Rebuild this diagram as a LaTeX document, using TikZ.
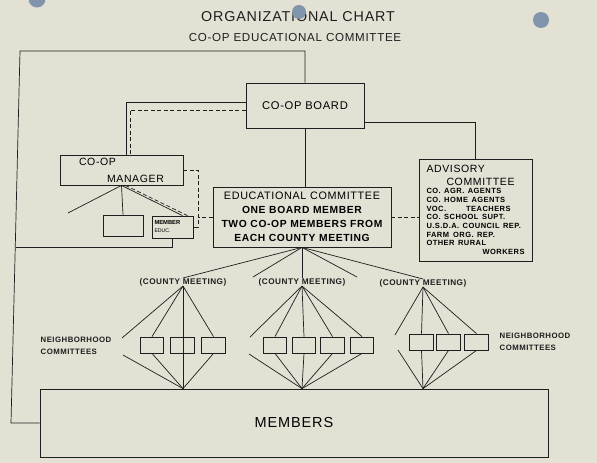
\documentclass[tikz,border=0pt]{standalone}
\usepackage{fontspec}
\setmainfont{Liberation Sans}
\newfontfamily\lettering[LetterSpace=6]{Liberation Sans}
\usetikzlibrary{positioning}

\definecolor{paper}{RGB}{227,224,212}
\definecolor{ink}{RGB}{30,30,30}
\definecolor{hole}{RGB}{128,148,172}

\begin{document}
\begin{tikzpicture}[x=1pt,y=-1pt,
    orgbox/.style={draw=ink,line width=.8pt,inner sep=0pt},
    nbox/.style={orgbox,minimum width=23.5pt,minimum height=16pt},
    link/.style={ink,line width=.7pt},
    dlink/.style={link,dash pattern=on 4pt off 2.5pt},
    meeting/.style={font=\lettering\bfseries\fontsize{8.2}{9}\selectfont,inner sep=0pt,text=ink},
    nbhd/.style={font=\lettering\bfseries\fontsize{7.8}{12.5}\selectfont,align=left,text=ink}]

    % Paper
    \fill[paper] (0,0) rectangle (597,463);
    \useasboundingbox (0,0) rectangle (597,463);

    % Titles
    \node[font=\lettering\fontsize{14.3}{16}\selectfont,text=ink] (title) at (298,17) {ORGANIZATIONAL CHART};
    \node[font=\lettering\fontsize{11.6}{12}\selectfont,text=ink] (subtitle) at (295,38) {CO-OP EDUCATIONAL COMMITTEE};

    % Boxes
    \node[orgbox,minimum width=118pt,minimum height=45pt,font=\lettering\fontsize{11.2}{12}\selectfont] (board) at (305,105.5) {CO-OP BOARD};
    \node[orgbox,minimum width=123pt,minimum height=30pt,text width=85pt,align=left,font=\lettering\fontsize{10.5}{17}\selectfont] (mgr) at (121.5,170) {CO-OP\\\hspace*{28pt}MANAGER};
    \node[orgbox,minimum width=40pt,minimum height=21pt] (blank) at (123,225.5) {};
    \node[orgbox,minimum width=41pt,minimum height=22pt,text width=36pt,align=left,font=\bfseries\fontsize{5.8}{8}\selectfont] (med) at (172.5,227) {MEMBER\\{\mdseries\fontsize{5.2}{8}\selectfont EDUC.}};
    \node[orgbox,minimum width=178pt,minimum height=60pt,text width=175pt,align=center,font=\lettering\fontsize{10.8}{14}\selectfont] (ec) at (302,217)
        {EDUCATIONAL COMMITTEE\\{\bfseries\fontsize{10.3}{14}\selectfont ONE BOARD MEMBER\\TWO CO-OP MEMBERS FROM\\EACH COUNTY MEETING}};
    \node[orgbox,minimum width=113pt,minimum height=102pt,text width=98pt,align=left,font=\lettering\fontsize{10.5}{12.5}\selectfont] (adv) at (475.5,210)
        {ADVISORY\\\hspace*{20pt}COMMITTEE\par
        {\bfseries\fontsize{7.5}{8.7}\selectfont CO. AGR. AGENTS\\CO. HOME AGENTS\\VOC.\hspace{20pt}TEACHERS\\CO. SCHOOL SUPT.\\U.S.D.A. COUNCIL REP.\\FARM\hspace{4pt}ORG. REP.\\OTHER RURAL\\\hspace*{\fill}WORKERS\par}};
    \node[orgbox,minimum width=508pt,minimum height=68pt,font=\lettering\fontsize{14.5}{16}\selectfont] (members) at (294,423) {MEMBERS};

    % County meetings
    \node[meeting] (cm1) at (183,282) {(COUNTY MEETING)};
    \node[meeting] (cm2) at (302,282) {(COUNTY MEETING)};
    \node[meeting] (cm3) at (423,283) {(COUNTY MEETING)};

    % Neighborhood committees
    \foreach \x/\n in {152/n11,182.5/n12,213.5/n13,275/n21,304/n22,332.5/n23,362/n24}
        \node[nbox] (\n) at (\x,345) {};
    \foreach \x/\n in {421.5/n31,448.5/n32,476.5/n33}
        \node[nbox] (\n) at (\x,342) {};
    \node[nbhd] (nbl) at (76,346) {NEIGHBORHOOD\\COMMITTEES};
    \node[nbhd] (nbr) at (535,342) {NEIGHBORHOOD\\COMMITTEES};

    % Holes in the sheet
    \fill[hole] (37,-1) circle (8.5);
    \fill[hole] (299,12) circle (7);
    \fill[hole] (541,20) circle (8);

    % Outer line and board links
    \coordinate (ctl) at (20,51);
    \coordinate (cbl) at (11,423);
    \draw[link] (board.north) |- (ctl) -- (cbl) -- (members.west);
    \draw[link] ([yshift=3.5pt]board.west) -| ([xshift=4.5pt]mgr.north);
    \draw[dlink] ([yshift=-4.5pt]board.west) -| ([xshift=8.5pt]mgr.north);
    \draw[link] ([yshift=6pt]board.south east) -| (adv.north);
    \draw[link] (board.south) -- (board.south |- ec.north);

    % Manager links
    \coordinate (mfree) at (68,213);
    \coordinate (dj) at (198,216);
    \coordinate (lb) at (16,247);
    \draw[link] (mgr.south) -- (mfree);
    \draw[link] (mgr.south) -- (blank.north);
    \draw[link] (mgr.south) -- ([xshift=10pt]med.north);
    \draw[dlink] ([xshift=4pt]mgr.south) -- ([xshift=15pt]med.north);
    \draw[dlink] (mgr.east) -- (mgr.east -| dj) -- (dj |- med.east) -- (med.east);
    \draw[dlink] (ec.west) -- (ec.west -| dj);
    \draw[dlink] (ec.east) -- (ec.east -| adv.west);
    \draw[link] (med.south) |- (lb);

    % Educational committee to county meetings
    \coordinate (ef1) at (253,277);
    \coordinate (ef2) at (357,277);
    \foreach \t in {cm1.north,ef1,cm2.north,ef2,cm3.north}
        \draw[link] (ec.south) -- (\t);

    % Meeting 1
    \coordinate (m1) at (cm1.south |- members.north);
    \coordinate (f1a) at (122,338);
    \coordinate (f1b) at (123,355);
    \foreach \t in {f1a,n11.north,n13.north}
        \draw[link] (cm1.south) -- (\t);
    \foreach \t in {f1b,n11.south,n13.south}
        \draw[link] (\t) -- (m1);
    \draw[link] (cm1.south) -- (m1);

    % Meeting 2
    \coordinate (m2) at (cm2.south |- members.north);
    \coordinate (f2a) at (250,337);
    \coordinate (f2b) at (249,354);
    \foreach \t in {f2a,n21.north,n22.north,n23.north,n24.north}
        \draw[link] (cm2.south) -- (\t);
    \foreach \t in {f2b,n21.south,n22.south,n23.south,n24.south}
        \draw[link] (\t) -- (m2);

    % Meeting 3
    \coordinate (m3) at (cm3.south |- members.north);
    \coordinate (f3a) at (395,335);
    \coordinate (f3b) at (398,350);
    \foreach \t in {f3a,n31.north,n32.north,n33.north}
        \draw[link] (cm3.south) -- (\t);
    \foreach \t in {f3b,n31.south,n32.south,n33.south}
        \draw[link] (\t) -- (m3);
\end{tikzpicture}
\end{document}
